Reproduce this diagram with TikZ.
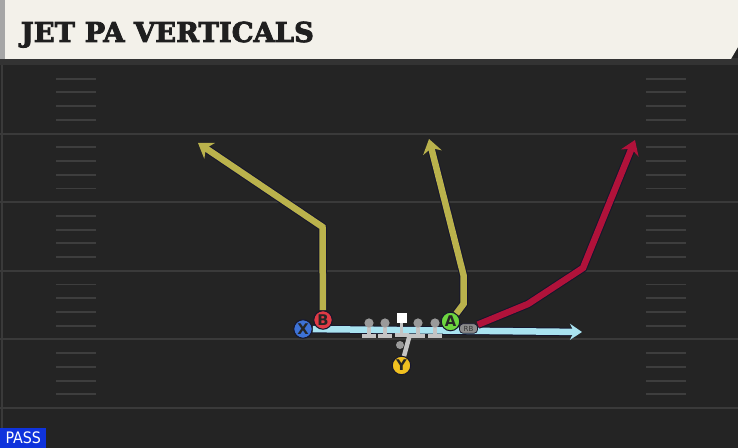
\documentclass[tikz,border=0pt]{standalone}
\usepackage{fontspec}
\setmainfont{DejaVu Sans}
\newfontfamily\titlefont[FakeBold=3]{DejaVu Serif Bold}
\newfontfamily\passfont{DejaVu Sans Condensed}
\usetikzlibrary{arrows.meta}

\definecolor{field}{HTML}{242424}
\definecolor{yardln}{HTML}{3A3A3A}
\definecolor{hashln}{HTML}{3E3E3E}
\definecolor{header}{HTML}{F3F1EA}
\definecolor{olive}{HTML}{BAB24C}
\definecolor{crimson}{HTML}{B0123A}
\definecolor{skyblue}{HTML}{A9E3F0}
\definecolor{outl}{HTML}{16162C}
\definecolor{xblue}{HTML}{3D72D6}
\definecolor{bred}{HTML}{E03A45}
\definecolor{agreen}{HTML}{6DD53F}
\definecolor{yyellow}{HTML}{F0C020}
\definecolor{linegray}{HTML}{C4C4C4}
\definecolor{headgray}{HTML}{9A9A9A}
\definecolor{passblue}{HTML}{0F33DC}

\begin{document}
\begin{tikzpicture}[x=0.02cm,y=-0.02cm]
        \tikzstyle{player}=[circle,draw=outl,line width=0.6pt,minimum size=0.37cm,inner sep=0pt,font=\bfseries\fontsize{8.4}{9}\selectfont,text=black!85]
        \tikzstyle{route}=[line width=0.13cm,line join=miter,preaction={draw=outl,line width=0.17cm}]
        \tikzstyle{tip}=[-{Stealth[length=0.28cm,width=0.38cm,inset=0.09cm]}]
        \useasboundingbox (0,0) rectangle (738,448);
        \fill[field] (0,0) rectangle (738,448);
        \draw[yardln,line width=1pt] (2,60) -- (2,448);
        \foreach \n in {1,...,5}
                \draw[yardln,line width=1.2pt] (0,65+68.6*\n) -- (738,65+68.6*\n);
        \foreach \n in {0,...,4}
                \foreach \k in {1,...,4} {
                        \draw[hashln,line width=1.1pt] (56,65+68.6*\n+13.72*\k) -- (96,65+68.6*\n+13.72*\k);
                        \draw[hashln,line width=1.1pt] (646,65+68.6*\n+13.72*\k) -- (686,65+68.6*\n+13.72*\k);
                }
        \fill[black!80] (0,58) rectangle (738,65);
        \fill[header] (0,0) -- (738,0) -- (738,47) -- (731,59) -- (0,59) -- cycle;
        \fill[black!35] (0,0) rectangle (5,59);
        \node[anchor=base west,inner sep=0pt,text=black!88] (title) at (20.5,42)
                {\titlefont\fontsize{15.6}{16}\selectfont JET PA VERTICALS};
        \node[player,fill=xblue] (X) at (303,329) {X};
        \coordinate (xend) at (582,332);
        \draw[route,skyblue,-{Stealth[length=0.24cm,width=0.32cm,inset=0.08cm]}] (X) -- (xend);
        \foreach \x in {369,385,418,435} {
                \fill[linegray] (\x-1.8,323) rectangle (\x+1.8,335);
                \fill[linegray] (\x-7,334) rectangle (\x+7,338.5);
                \fill[headgray] (\x,323) circle (4.6);
        }
        \node[circle,fill=headgray,minimum size=0.16cm,inner sep=0pt] (qb) at (400,345) {};
        \fill[linegray] (399.7,320) rectangle (403.3,335);
        \fill[linegray] (395,333) rectangle (409,337.5);
        \node[fill=white,minimum size=0.2cm,inner sep=0pt] (ctr) at (401.5,318.5) {};
        \node[rounded corners=2pt,fill=headgray!90!black,draw=outl,line width=0.4pt,minimum width=0.36cm,minimum height=0.19cm,inner sep=0pt,font=\fontsize{4}{4}\selectfont,text=black!80] (RB) at (468.5,328.5) {RB};
        \node[player,fill=bred] (B) at (323,320) {B};
        \node[player,fill=agreen] (A) at (450.5,321.5) {A};
        \node[player,fill=yyellow] (Y) at (401.5,365.5) {Y};
        \coordinate (bcut) at (322.5,227);
        \coordinate (bend) at (198,143);
        \coordinate (acut1) at (463.5,304);
        \coordinate (acut2) at (463.5,275);
        \coordinate (aend) at (429,139);
        \coordinate (rb1) at (528,304);
        \coordinate (rb2) at (583,268);
        \coordinate (rbend) at (635,140);
        \coordinate (ysnap) at (410,334);
        \draw[route,olive,tip] (B) -- (bcut) -- (bend);
        \draw[route,olive,tip] (A) -- (acut1) -- (acut2) -- (aend);
        \draw[route,crimson,tip] (RB) -- (rb1) -- (rb2) -- (rbend);
        \draw[linegray,line width=0.09cm] (Y) -- (ysnap);
        \node[anchor=south west,fill=passblue,minimum width=0.92cm,minimum height=0.4cm,inner sep=0pt,text=white] (pass) at (0,448) {\passfont\fontsize{9}{9}\selectfont PASS};
\end{tikzpicture}
\end{document}
